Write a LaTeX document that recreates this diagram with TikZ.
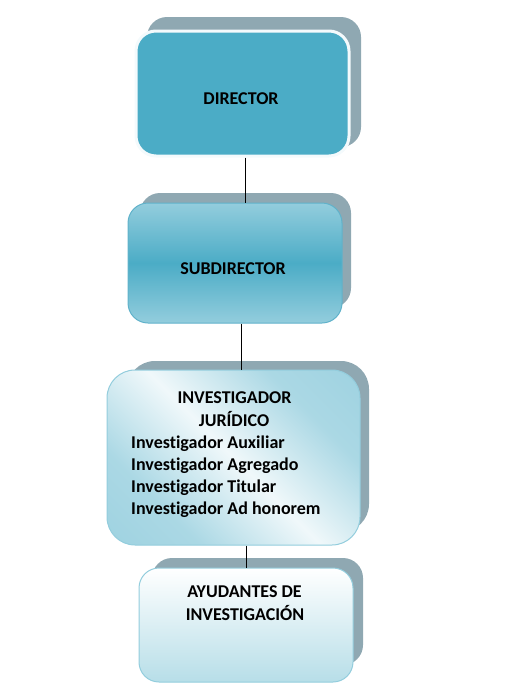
\documentclass[tikz,border=0pt]{standalone}
\usepackage{fontspec}
\setmainfont{Carlito}[Ligatures={NoCommon,NoRequired,NoContextual}]
\definecolor{acc}{RGB}{75,172,198}
\definecolor{accl}{RGB}{147,205,221}
\definecolor{accp}{RGB}{183,222,232}
\definecolor{shd}{RGB}{143,168,178}
\definecolor{edge}{RGB}{96,178,202}
\pgfdeclareverticalshading{invsh}{100bp}{color(0bp)=(accl); color(30bp)=(accl!78!white); color(50bp)=(white!86!accl); color(70bp)=(accl!78!white); color(100bp)=(accl)}
\tikzset{
  shadowbox/.style={rectangle, rounded corners=20pt, fill=shd, draw=none},
  box/.style={rectangle, rounded corners=20pt, inner sep=0pt},
  txt/.style={font=\bfseries\fontsize{18}{22}\selectfont, anchor=base, inner sep=0pt},
  conn/.style={draw=black, line width=0.8pt}
}
\begin{document}
\begin{tikzpicture}[x=1pt,y=-1pt]
\useasboundingbox (0,0) rectangle (524,686);
% shadows
\node[shadowbox, minimum width=214pt, minimum height=130pt] (s1) at (254,82) {};
\node[shadowbox, minimum width=211pt, minimum height=115pt] (s2) at (245.5,250.5) {};
\node[shadowbox, minimum width=242pt, minimum height=171pt, rounded corners=28pt] (s3) at (248,446.5) {};
\node[shadowbox, minimum width=211pt, minimum height=107pt] (s4) at (257.5,611.5) {};
% main boxes
\node[box, minimum width=213pt, minimum height=125pt, fill=acc, draw=white!94!acc, line width=3pt] (dir) at (242.5,93.5) {};
\node[box, minimum width=214pt, minimum height=120pt, top color=accl, bottom color=accl, middle color=acc, draw=edge, line width=1pt] (sub) at (235,263) {};
\node[box, minimum width=253pt, minimum height=175pt, rounded corners=28pt, shading=invsh, shading angle=-45, draw=accl, line width=1pt] (inv) at (233.5,457.5) {};
\node[box, minimum width=214pt, minimum height=114pt, top color=white, bottom color=accp, draw=accl, line width=1pt] (ayu) at (246,625) {};
% texts
\node[txt] (tdir) at (241,104) {DIRECTOR};
\node[txt] (tsub) at (233,274) {SUBDIRECTOR};
\node[txt] (tinv1) at (234.5,403) {INVESTIGADOR};
\node[txt] (tinv2) at (234,426) {JURÍDICO};
\node[txt, anchor=base west] (l1) at (131,448) {Investigador Auxiliar};
\node[txt, anchor=base west] (l2) at (131,470) {Investigador Agregado};
\node[txt, anchor=base west] (l3) at (131,492) {Investigador Titular};
\node[txt, anchor=base west] (l4) at (131,514) {Investigador Ad honorem};
\node[txt] (tayu1) at (244.5,597.5) {AYUDANTES DE};
\node[txt] (tayu2) at (245,620) {INVESTIGACIÓN};
% connectors
\coordinate (c1) at (dir.south -| 245,0);
\coordinate (c2) at (sub.south -| 241,0);
\coordinate (c3) at (inv.south -| 246,0);
\draw[conn] (c1) -- (c1 |- sub.north);
\draw[conn] (c2) -- (c2 |- inv.north);
\draw[conn] (c3) -- (c3 |- ayu.north);
\end{tikzpicture}
\end{document}
